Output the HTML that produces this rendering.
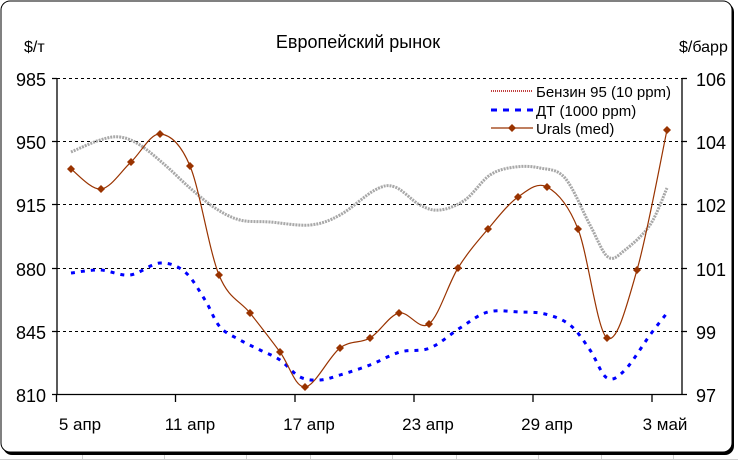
<!DOCTYPE html>
<html><head><meta charset="utf-8"><style>
body{margin:0;background:#fff;width:738px;height:460px;overflow:hidden;font-family:"Liberation Sans",sans-serif}
</style></head><body>
<svg id="s" width="738" height="460" xmlns="http://www.w3.org/2000/svg" font-family="Liberation Sans, sans-serif">
<g stroke="#d0d0d0" stroke-width="1">
<line x1="0" y1="459.5" x2="738" y2="459.5"/>
<line x1="82.5" y1="440" x2="82.5" y2="460"/><line x1="164.5" y1="440" x2="164.5" y2="460"/>
<line x1="246.5" y1="440" x2="246.5" y2="460"/><line x1="310.5" y1="440" x2="310.5" y2="460"/>
<line x1="392.5" y1="440" x2="392.5" y2="460"/><line x1="456.5" y1="440" x2="456.5" y2="460"/>
<line x1="538.5" y1="440" x2="538.5" y2="460"/><line x1="601.5" y1="440" x2="601.5" y2="460"/>
<line x1="673.5" y1="440" x2="673.5" y2="460"/>
</g>
<rect x="3" y="3" width="731" height="452" rx="9" fill="#000"/>
<rect x="1" y="1" width="731" height="451" rx="9" fill="#fff" stroke="#000" stroke-width="1"/>
<text x="358" y="48" font-size="18" text-anchor="middle">Европейский рынок</text>
<text x="24" y="52" font-size="16">$/т</text>
<text x="679" y="52" font-size="16">$/барр</text>
<g stroke="#000" stroke-width="1" stroke-dasharray="3,3">
<line x1="57" y1="78.5" x2="682" y2="78.5"/><line x1="57" y1="141.5" x2="682" y2="141.5"/>
<line x1="57" y1="204.5" x2="682" y2="204.5"/><line x1="57" y1="268.5" x2="682" y2="268.5"/>
<line x1="57" y1="331.5" x2="682" y2="331.5"/>
</g>
<g stroke="#000" stroke-width="1.3" fill="none">
<line x1="57" y1="78" x2="57" y2="395"/><line x1="682" y1="78" x2="682" y2="395"/>
<line x1="52" y1="394.5" x2="687" y2="394.5"/>
<path d="M52 78.5H57M52 141.5H57M52 204.5H57M52 268.5H57M52 331.5H57"/>
<path d="M682 78.5H687M682 141.5H687M682 204.5H687M682 268.5H687M682 331.5H687"/>
<path d="M56.5 395V402M175.5 395V402M295 395V402M414 395V402M533 395V402M652 395V402"/>
</g>
<g font-size="18" text-anchor="end">
<text x="46" y="86">985</text><text x="46" y="149">950</text><text x="46" y="212">915</text>
<text x="46" y="276">880</text><text x="46" y="339">845</text><text x="46" y="402">810</text>
</g>
<g font-size="18">
<text x="696" y="86">106</text><text x="696" y="149">104</text><text x="696" y="212">102</text>
<text x="696" y="276">101</text><text x="696" y="339">99</text><text x="696" y="402">97</text>
</g>
<g font-size="17" text-anchor="middle">
<text x="80" y="430">5 апр</text><text x="190" y="430">11 апр</text><text x="309" y="430">17 апр</text>
<text x="428" y="430">23 апр</text><text x="547" y="430">29 апр</text><text x="665" y="430">3 май</text>
</g>
<path id="g" fill="none" stroke="#a8a8a8" stroke-width="3" stroke-dasharray="2,1" data-p="71,152 100,140 120,137 140,145 165,165 190,188 215,208 240,220 270,222 310,225 340,215 375,190 395,187 420,205 440,210 465,200 490,175 515,167 540,168 565,178 590,225 608,257 625,250 650,225 667,188"/>
<path id="d" fill="none" stroke="#0000ff" stroke-width="3" stroke-dasharray="4,6" data-p="71,273 100,270 130,275 160,263 185,272 205,300 220,327 240,340 260,350 280,360 300,377 320,380 340,375 370,365 400,352 430,348 460,328 488,312 520,312 545,314 570,325 590,350 607,378 625,370 650,335 667,313"/>
<path id="u" fill="none" stroke="#993300" stroke-width="1.2" data-p="71,169 101,189 131,162 160,134 190,166 219,275 250,313 280,352 305,387 340,348 370,338 399,313 429,324 458,268 488,229 518,197 547,187 578,229 607,338 637,270 667,130"/>
<g id="m" fill="#993300"></g>
<line x1="491" y1="91" x2="533" y2="91" stroke="#c04040" stroke-width="2" stroke-dasharray="1,1"/>
<line x1="491" y1="110" x2="533" y2="110" stroke="#0000ff" stroke-width="3" stroke-dasharray="6,6"/>
<line x1="491" y1="128" x2="533" y2="128" stroke="#993300" stroke-width="1.2"/>
<path d="M512 124l4 4-4 4-4-4z" fill="#993300"/>
<g font-size="15">
<text x="536" y="97">Бензин 95 (10 ppm)</text>
<text x="536" y="116">ДТ (1000 ppm)</text>
<text x="536" y="134">Urals (med)</text>
</g>
</svg>
<script>
function pts(s){return s.trim().split(/\s+/).map(function(p){var a=p.split(',');return[+a[0],+a[1]]})}
function smooth(P){var d='M'+P[0][0]+' '+P[0][1];for(var i=0;i<P.length-1;i++){var p0=P[i-1]||P[i],p1=P[i],p2=P[i+1],p3=P[i+2]||p2;var t=6;d+=' C'+(p1[0]+(p2[0]-p0[0])/t)+' '+(p1[1]+(p2[1]-p0[1])/t)+' '+(p2[0]-(p3[0]-p1[0])/t)+' '+(p2[1]-(p3[1]-p1[1])/t)+' '+p2[0]+' '+p2[1];}return d}
['g','d','u'].forEach(function(id){var e=document.getElementById(id);var P=pts(e.getAttribute('data-p'));e.setAttribute('d',smooth(P));
if(id=='u'){var m=document.getElementById('m');P.forEach(function(p){var q=document.createElementNS('http://www.w3.org/2000/svg','path');q.setAttribute('d','M'+p[0]+' '+(p[1]-4)+'l4 4-4 4-4-4z');m.appendChild(q)})}});
</script>
</body></html>
